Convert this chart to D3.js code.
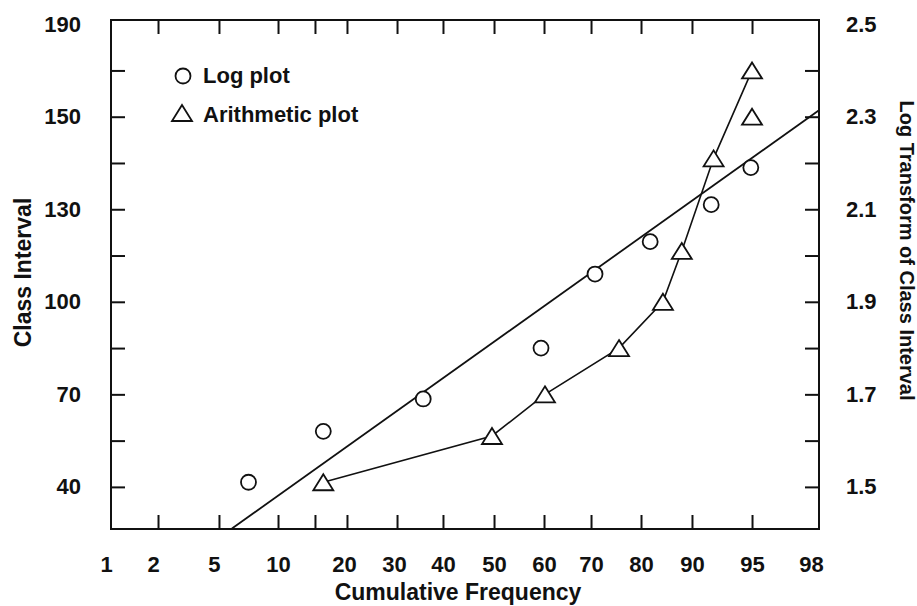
<!DOCTYPE html>
<html>
<head>
<meta charset="utf-8">
<script src="https://cdn.jsdelivr.net/npm/d3@7"></script>
<style>
  html, body { margin: 0; padding: 0; background: #fff; }
  svg { display: block; }
  svg text { font-family: "Liberation Sans", Arial, sans-serif; font-weight: bold; }
</style>
</head>
<body>
<div id="chart"></div>
<script>
// cumulative frequency ticks (probability paper, spacing)
const xTickValues = [1, 2, 5, 10, 15, 20, 30, 40, 50, 60, 70, 80, 90, 95, 98];
const xTickLabels = ["1", "2", "5", "10", "", "20", "30", "40", "50", "60", "70", "80", "90", "95", "98"];
const xPaper = [0, 0.0664, 0.1525, 0.2359, 0.2881, 0.3333, 0.4040, 0.4689, 0.5410, 0.6116, 0.6780, 0.7486, 0.8206, 0.9054, 1];

// y ticks: log transform on the right, class interval labels on the left
const yTickValues = [1.5, 1.6, 1.7, 1.8, 1.9, 2.0, 2.1, 2.2, 2.3, 2.4];
const yMajor = [1.5, 1.7, 1.9, 2.1, 2.3, 2.5];
const classLabels = ["40", "70", "100", "130", "150", "190"];
const logLabels = ["1.5", "1.7", "1.9", "2.1", "2.3", "2.5"];

// Log plot (circles)
const logX = [7.5, 16.3, 35.7, 59.4, 70.8, 81.8, 91.6, 94.9];
const logY = [1.51, 1.62, 1.69, 1.80, 1.96, 2.03, 2.11, 2.19];

// Arithmetic plot (triangles), joined by a line except one point
const arithX = [16.3, 49.6, 60.2, 75.6, 84.3, 88.0, 91.8, 95, 95];
const arithY = [1.51, 1.61, 1.70, 1.80, 1.90, 2.01, 2.21, 2.30, 2.40];
const arithJoined = [true, true, true, true, true, true, true, false, true];

// straight line fitted to the log plot
const fitX = [6.1, 98];
const fitY = [1.41, 2.314];

const legendNames = ["Log plot", "Arithmetic plot"];

drawChart();

function drawChart() {
    const width = 917,
        height = 606,
        marginLeft = 111,
        marginRight = 98,
        marginTop = 20,
        marginBottom = 77;
    const plotW = width - marginLeft - marginRight;
    const plotH = height - marginTop - marginBottom;
    const ink = "#111";
    const font = "'Liberation Sans', Arial, sans-serif";

    const x = d3.scaleLinear()
        .domain(xTickValues)
        .range(xPaper.map(f => marginLeft + f * plotW));
    const y = d3.scaleLinear()
        .domain([1.409, 2.509])
        .range([height - marginBottom, marginTop]);

    const svg = d3.select("#chart").append("svg")
        .attr("width", width)
        .attr("height", height)
        .attr("viewBox", [0, 0, width, height]);

    const inner = xTickValues.slice(1, -1);
    const xFmt = d => xTickLabels[xTickValues.indexOf(d)];

    // bottom axis
    svg.append("g")
        .attr("transform", `translate(0,${height - marginBottom})`)
        .call(d3.axisBottom(x).tickValues(xTickValues).tickFormat(xFmt).tickSize(-14).tickPadding(27))
        .attr("font-family", font)
        .attr("font-size", 22)
        .call(g => g.select(".domain").remove())
        .call(g => g.selectAll(".tick line").attr("stroke", ink).attr("stroke-width", 2)
            .filter(d => !inner.includes(d)).remove())
        .call(g => g.selectAll(".tick text").attr("fill", ink).attr("dy", "0.71em")
            .attr("dx", d => d === 98 ? -8 : d <= 5 ? -5 : d === 20 || d === 30 ? -3 : 0));

    // top axis, ticks only
    svg.append("g")
        .attr("transform", `translate(0,${marginTop})`)
        .call(d3.axisTop(x).tickValues(inner).tickFormat("").tickSize(-14))
        .call(g => g.select(".domain").remove())
        .call(g => g.selectAll(".tick line").attr("stroke", ink).attr("stroke-width", 2));

    const majorFmt = labels => d => {
        const i = yMajor.findIndex(v => Math.abs(v - d) < 1e-6);
        return i < 0 ? "" : labels[i];
    };

    // left axis: class interval
    svg.append("g")
        .attr("transform", `translate(${marginLeft},0)`)
        .call(d3.axisLeft(y).tickValues(yTickValues.concat([2.5])).tickFormat(majorFmt(classLabels)).tickSize(-14).tickPadding(30))
        .attr("font-family", font)
        .attr("font-size", 22)
        .call(g => g.select(".domain").remove())
        .call(g => g.selectAll(".tick line").attr("stroke", ink).attr("stroke-width", 2)
            .filter(d => d > 2.45).remove())
        .call(g => g.selectAll(".tick text").attr("fill", ink));

    // right axis: log transform
    svg.append("g")
        .attr("transform", `translate(${width - marginRight},0)`)
        .call(d3.axisRight(y).tickValues(yTickValues.concat([2.5])).tickFormat(majorFmt(logLabels)).tickSize(-14).tickPadding(27))
        .attr("font-family", font)
        .attr("font-size", 22)
        .call(g => g.select(".domain").remove())
        .call(g => g.selectAll(".tick line").attr("stroke", ink).attr("stroke-width", 2)
            .filter(d => d > 2.45).remove())
        .call(g => g.selectAll(".tick text").attr("fill", ink));

    // frame
    svg.append("rect")
        .attr("x", marginLeft)
        .attr("y", marginTop)
        .attr("width", plotW)
        .attr("height", plotH)
        .attr("fill", "none")
        .attr("stroke", ink)
        .attr("stroke-width", 2);

    // axis titles
    svg.append("text")
        .attr("x", 458)
        .attr("y", height - 6)
        .attr("text-anchor", "middle")
        .attr("font-size", 23)
        .attr("fill", ink)
        .text("Cumulative Frequency");

    svg.append("text")
        .attr("transform", `translate(31,${marginTop + plotH / 2 - 2}) rotate(-90)`)
        .attr("text-anchor", "middle")
        .attr("font-size", 23)
        .attr("fill", ink)
        .text("Class Interval");

    svg.append("text")
        .attr("transform", `translate(900,${marginTop + plotH / 2 - 24}) rotate(90)`)
        .attr("text-anchor", "middle")
        .attr("font-size", 20)
        .attr("fill", ink)
        .text("Log Transform of Class Interval");

    const line = d3.line().x(d => x(d[0])).y(d => y(d[1]));

    // fitted straight line
    svg.append("path")
        .attr("fill", "none")
        .attr("stroke", ink)
        .attr("stroke-width", 1.8)
        .attr("d", line(d3.zip(fitX, fitY)));

    // arithmetic line
    const arithPts = d3.zip(arithX, arithY);
    svg.append("path")
        .attr("fill", "none")
        .attr("stroke", ink)
        .attr("stroke-width", 1.6)
        .attr("d", line(arithPts.filter((d, i) => arithJoined[i])));

    const triangle = "M0,-8L10,8L-10,8Z";

    // circles
    svg.append("g")
        .selectAll("circle")
        .data(d3.zip(logX, logY))
        .join("circle")
        .attr("cx", d => x(d[0]))
        .attr("cy", d => y(d[1]))
        .attr("r", 7.5)
        .attr("fill", "#fff")
        .attr("stroke", ink)
        .attr("stroke-width", 1.8);

    // triangles
    svg.append("g")
        .selectAll("path")
        .data(arithPts)
        .join("path")
        .attr("transform", d => `translate(${x(d[0])},${y(d[1])})`)
        .attr("d", triangle)
        .attr("fill", "#fff")
        .attr("stroke", ink)
        .attr("stroke-width", 1.8);

    // legend
    const legend = svg.append("g").attr("transform", "translate(183,76)");
    legend.append("circle")
        .attr("r", 7.5)
        .attr("fill", "#fff")
        .attr("stroke", ink)
        .attr("stroke-width", 1.8);
    legend.append("path")
        .attr("transform", "translate(-1,37)")
        .attr("d", triangle)
        .attr("fill", "#fff")
        .attr("stroke", ink)
        .attr("stroke-width", 1.8);
    legend.selectAll("text")
        .data(legendNames)
        .join("text")
        .attr("x", 20)
        .attr("y", (d, i) => 7 + i * 39)
        .attr("font-size", 22)
        .attr("fill", ink)
        .text(d => d);
}
</script>
</body>
</html>
